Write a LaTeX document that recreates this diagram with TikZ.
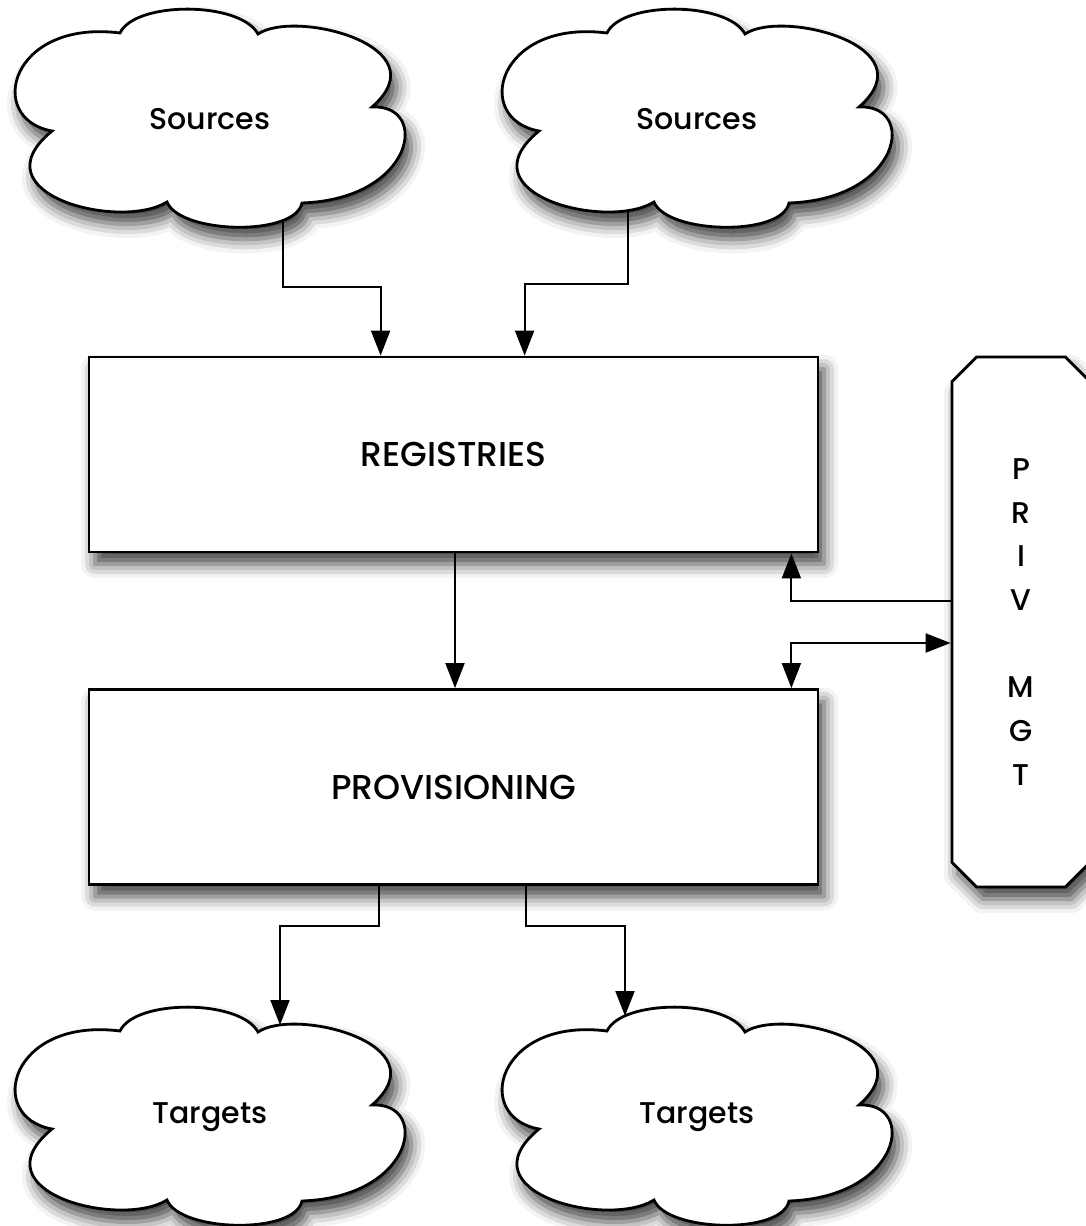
\documentclass[tikz,border=0pt]{standalone}
\usepackage{fontspec}
\setmainfont{Poppins}[UprightFont=* Medium]
\usepackage{tikz}
\usetikzlibrary{arrows.meta,calc,positioning,shapes.misc,shadows.blur}

\tikzset{
  softshadow/.style={blur shadow={shadow xshift=6pt,shadow yshift=-12pt,
      shadow blur radius=14pt,shadow opacity=75}},
  cloudline/.style={draw=black,line width=2.8pt,fill=white,softshadow},
  block/.style={draw=black,line width=2.8pt,fill=white,softshadow,
      minimum width=729pt,minimum height=195pt,font=\fontsize{34.5}{40}\selectfont},
  privbox/.style={chamfered rectangle,chamfered rectangle xsep=21pt,
      draw=black,line width=2.8pt,fill=white,softshadow,
      minimum width=138pt,minimum height=530pt,align=center,
      font=\fontsize{30}{43.7}\selectfont},
  lbl/.style={font=\fontsize{30}{36}\selectfont},
  conn/.style={line width=2pt,-{Triangle[length=25pt,width=19pt]}},
}

\begin{document}
\begin{tikzpicture}[x=1pt,y=-1pt]
  \useasboundingbox (0,0) rectangle (1086,1226);
  % clouds
  \foreach \nm/\cx/\cy/\txt in {src1/210/119/Sources,src2/697/119/Sources,
      tgt1/210/1117/Targets,tgt2/697/1117/Targets}{
    \begin{scope}[shift={(\cx,\cy)}]
      \path[cloudline] (-158,12)
        .. controls (-225,0) and (-200,-100) .. (-90,-86)
        .. controls (-75,-118) and (30,-118) .. (48,-85)
        .. controls (85,-110) and (232,-73) .. (162,-12)
        .. controls (220,-15) and (205,80) .. (92,84)
        .. controls (85,118) and (-30,115) .. (-43,83)
        .. controls (-90,112) and (-235,75) .. (-158,12) -- cycle;
    \end{scope}
    \node[lbl] (\nm) at (\cx,\cy) {\txt};
  }
  % boxes
  \node[block] (reg) at (453.5,454.5) {REGISTRIES};
  \node[block] (prov) at (453.5,787) {PROVISIONING};
  \node[privbox] (priv) at (1021,622) {P\\R\\I\\V\\~\\M\\G\\T};
  % connectors
  \coordinate (s1out) at ($(src1)+(73,100)$);
  \coordinate (s2out) at ($(src2)+(-69,91)$);
  \coordinate (t1in) at ($(tgt1)+(70,-92)$);
  \coordinate (t2in) at ($(tgt2)+(-72,-101)$);
  \draw[conn] (s1out) -- ++(0,68) -| ($(reg.north west)+(293,0)$);
  \draw[conn] (s2out) -- ++(0,74) -| ($(reg.north west)+(437,0)$);
  \draw[conn] ($(reg.south)+(1.5,0)$) -- ($(prov.north)+(1.5,0)$);
  \draw[conn] ($(priv.west)+(0,-21)$) -| ($(reg.south east)+(-28,0)$);
  \draw[conn,{Triangle[length=25pt,width=19pt]}-{Triangle[length=25pt,width=19pt]}]
    ($(prov.north east)+(-28,0)$) |- ($(priv.west)+(0,21)$);
  \draw[conn] ($(prov.south west)+(291,0)$) -- ++(0,40) -| (t1in);
  \draw[conn] ($(prov.south west)+(438,0)$) -- ++(0,40) -| (t2in);
\end{tikzpicture}
\end{document}
